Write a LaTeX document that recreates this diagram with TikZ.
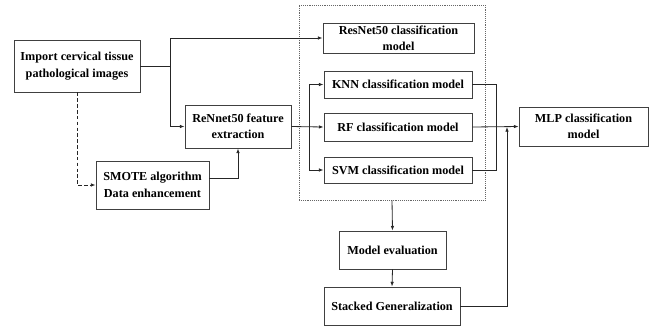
\documentclass[tikz,border=0pt]{standalone}
\usepackage{fontspec}
\setmainfont{Liberation Serif}
\usetikzlibrary{arrows.meta}

\tikzset{
  box/.style={draw=black!75,line width=0.7pt,align=center,inner sep=0pt,
    font=\fontsize{10.4}{14}\selectfont\bfseries},
  link/.style={draw=black!85,line width=0.7pt}
}

\begin{document}
\begin{tikzpicture}[x=0.03cm,y=-0.03cm,>={Latex[length=4pt,width=3pt]}]
  \useasboundingbox (0,0) rectangle (657,326);
  % dotted frame round the classifiers
  \node[draw=black!60,densely dotted,line width=0.6pt,minimum width=5.58cm,minimum height=5.85cm] (frame) at (392,102.5) {};
  \node[box,minimum width=3.78cm,minimum height=1.56cm] (imp) at (77,66) {Import cervical tissue\\pathological images};
  \node[box,minimum width=3.18cm,minimum height=1.29cm] (fext) at (238,126.5) {ReNnet50 feature\\extraction};
  \node[box,minimum width=3.39cm,minimum height=1.44cm] (smote) at (152.5,185) {SMOTE algorithm\\Data enhancement};
  \node[box,minimum width=4.53cm,minimum height=0.9cm] (resnet) at (398.5,38) {ResNet50 classification\\model};
  \node[box,minimum width=4.44cm,minimum height=0.81cm] (knn) at (398,84.5) {KNN classification model};
  \node[box,minimum width=4.44cm,minimum height=0.84cm] (rf) at (398,127) {RF classification model};
  \node[box,minimum width=4.44cm,minimum height=0.78cm] (svm) at (398,170) {SVM classification model};
  \node[box,minimum width=3.87cm,minimum height=1.17cm] (mlp) at (583.5,126.5) {MLP classification\\model};
  \node[box,minimum width=3.21cm,minimum height=1.14cm] (evalm) at (392.5,250) {Model evaluation};
  \node[box,minimum width=4.08cm,minimum height=1.14cm] (stack) at (392,306) {Stacked Generalization};

  \coordinate (split) at (170,66);
  \coordinate (fork) at (309,127);
  \coordinate (join) at (496,127);
  \coordinate (back) at (507,127);

  \draw[link] (imp.east) -- (split);
  \draw[link,->] (split) |- (resnet.west);
  \draw[link,->] (split) |- (fext.west);
  \draw[link,->,densely dashed] (imp.south) |- (smote.west);
  \draw[link,->] ([yshift=0.2cm]smote.east) -| (fext.south);
  \draw[link,->] (fext.east) -- (rf.west);
  \draw[link,->] (fork) |- (knn.west);
  \draw[link,->] (fork) |- (svm.west);
  \draw[link] (knn.east) -| (join);
  \draw[link] (svm.east) -| (join);
  \draw[link,->] (rf.east) -- (mlp.west);
  \draw[link,->] (frame.south) -- (evalm.north);
  \draw[link,->] (evalm.south) -- (stack.north);
  \draw[link,->] (stack.east) -| (back);
\end{tikzpicture}
\end{document}
